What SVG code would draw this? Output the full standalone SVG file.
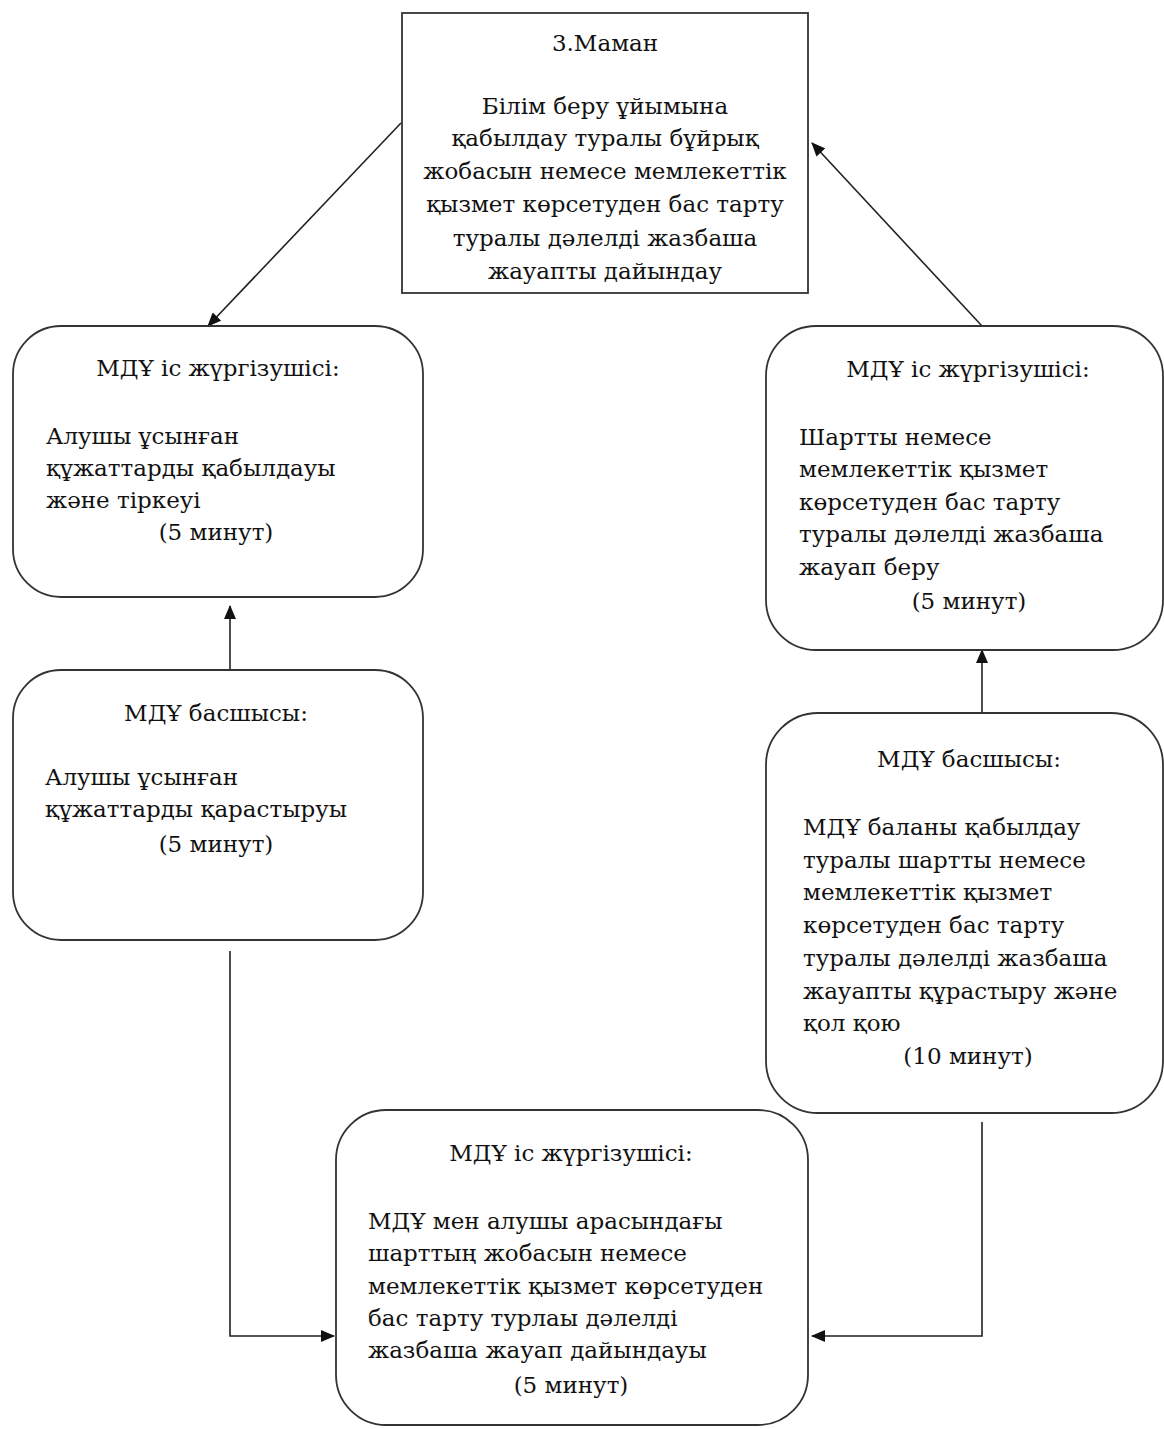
<svg xmlns="http://www.w3.org/2000/svg" width="1164" height="1429" viewBox="0 0 1164 1429">
<style>
.box{fill:#fff;stroke:#333;stroke-width:1.8}
.t{font-family:"DejaVu Serif","Liberation Serif",serif;font-size:23px;fill:#111}
.c{text-anchor:middle}
.ln{fill:none;stroke:#222;stroke-width:1.6}
</style>
<defs>
<marker id="ah" markerWidth="14" markerHeight="12" refX="13" refY="6" orient="auto" markerUnits="userSpaceOnUse">
<path d="M0,0 L14,6 L0,12 Z" fill="#111"/>
</marker>
</defs>
<rect width="1164" height="1429" fill="#fff"/>
<g id="connectors">
<line class="ln" x1="401" y1="123" x2="208" y2="326" marker-end="url(#ah)"/>
<line class="ln" x1="982" y1="326" x2="812" y2="143" marker-end="url(#ah)"/>
<line class="ln" x1="230" y1="670" x2="230" y2="606" marker-end="url(#ah)"/>
<line class="ln" x1="982" y1="713" x2="982" y2="650" marker-end="url(#ah)"/>
<polyline class="ln" points="230,951 230,1336 334,1336" marker-end="url(#ah)"/>
<polyline class="ln" points="982,1122 982,1336 812,1336" marker-end="url(#ah)"/>
</g>
<g id="n-maman">
<rect class="box" x="402" y="13" width="406" height="280"/>
<text class="t c" x="605" y="51">3.Маман</text>
<text class="t c" x="605" y="114">Білім беру ұйымына</text>
<text class="t c" x="605" y="146">қабылдау туралы бұйрық</text>
<text class="t c" x="605" y="179">жобасын немесе мемлекеттік</text>
<text class="t c" x="605" y="212">қызмет көрсетуден бас тарту</text>
<text class="t c" x="605" y="246">туралы дәлелді жазбаша</text>
<text class="t c" x="605" y="279">жауапты дайындау</text>
</g>
<g id="n-left1">
<rect class="box" x="13" y="326" width="410" height="271" rx="48" ry="48"/>
<text class="t c" x="218" y="376">МДҰ іс жүргізушісі:</text>
<text class="t" x="46" y="444">Алушы ұсынған</text>
<text class="t" x="46" y="476">құжаттарды қабылдауы</text>
<text class="t" x="46" y="508">және тіркеуі</text>
<text class="t c" x="216" y="540">(5 минут)</text>
</g>
<g id="n-right1">
<rect class="box" x="766" y="326" width="397" height="324" rx="50" ry="50"/>
<text class="t c" x="968" y="377">МДҰ іс жүргізушісі:</text>
<text class="t" x="799" y="445">Шартты немесе</text>
<text class="t" x="799" y="477">мемлекеттік қызмет</text>
<text class="t" x="799" y="510">көрсетуден бас тарту</text>
<text class="t" x="799" y="542">туралы дәлелді жазбаша</text>
<text class="t" x="799" y="575">жауап беру</text>
<text class="t c" x="969" y="609">(5 минут)</text>
</g>
<g id="n-left2">
<rect class="box" x="13" y="670" width="410" height="270" rx="48" ry="48"/>
<text class="t c" x="216" y="721">МДҰ басшысы:</text>
<text class="t" x="45" y="785">Алушы ұсынған</text>
<text class="t" x="45" y="817">құжаттарды қарастыруы</text>
<text class="t c" x="216" y="852">(5 минут)</text>
</g>
<g id="n-right2">
<rect class="box" x="766" y="713" width="397" height="400" rx="52" ry="52"/>
<text class="t c" x="969" y="767">МДҰ басшысы:</text>
<text class="t" x="803" y="835">МДҰ баланы қабылдау</text>
<text class="t" x="803" y="868">туралы шартты немесе</text>
<text class="t" x="803" y="900">мемлекеттік қызмет</text>
<text class="t" x="803" y="933">көрсетуден бас тарту</text>
<text class="t" x="803" y="966">туралы дәлелді жазбаша</text>
<text class="t" x="803" y="999">жауапты құрастыру және</text>
<text class="t" x="803" y="1031">қол қою</text>
<text class="t c" x="968" y="1064">(10 минут)</text>
</g>
<g id="n-bottom">
<rect class="box" x="336" y="1110" width="472" height="315" rx="50" ry="50"/>
<text class="t c" x="571" y="1161">МДҰ іс жүргізушісі:</text>
<text class="t" x="368" y="1229">МДҰ мен алушы арасындағы</text>
<text class="t" x="368" y="1261">шарттың жобасын немесе</text>
<text class="t" x="368" y="1294">мемлекеттік қызмет көрсетуден</text>
<text class="t" x="368" y="1326">бас тарту турлаы дәлелді</text>
<text class="t" x="368" y="1358">жазбаша жауап дайындауы</text>
<text class="t c" x="571" y="1393">(5 минут)</text>
</g>
</svg>
